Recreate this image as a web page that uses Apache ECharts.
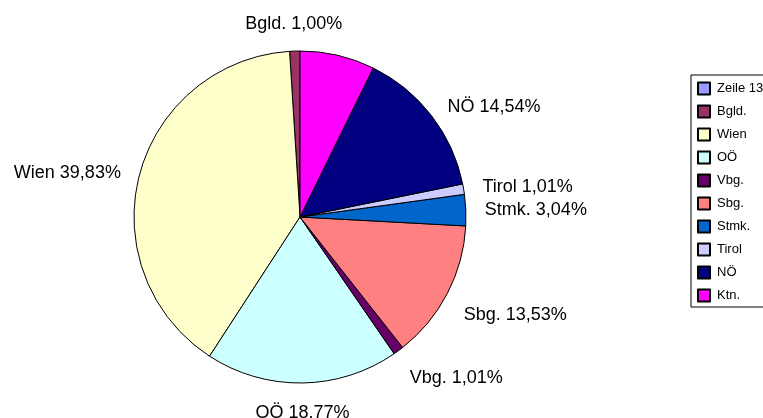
<!DOCTYPE html>
<html>
<head>
<meta charset="utf-8">
<script src="https://cdn.jsdelivr.net/npm/echarts@6/dist/echarts.min.js"></script>
<style>
  html, body { margin: 0; padding: 0; background: #fff; }
  #chart { width: 763px; height: 418px; }
</style>
</head>
<body>
<div id="chart"></div>
<script>
// regions, in legend order (pie goes counter-clockwise from 12 o'clock)
var regions = ['Zeile 13', 'Bgld.', 'Wien', 'OÖ', 'Vbg.', 'Sbg.', 'Stmk.', 'Tirol', 'NÖ', 'Ktn.'];
var shares = [0, 1.00, 39.83, 18.77, 1.01, 13.53, 3.04, 1.01, 14.54, 7.27];
var sliceLabels = ['', 'Bgld. 1,00%', 'Wien 39,83%', 'OÖ 18.77%', 'Vbg. 1,01%', 'Sbg. 13,53%',
                   'Stmk. 3,04%', 'Tirol 1,01%', 'NÖ 14,54%', ''];
var colors = ['#9999FF', '#993366', '#FFFFCC', '#CCFFFF', '#660066', '#FF8080',
              '#0066CC', '#CCCCFF', '#000080', '#FF00FF'];

var font = "'Liberation Sans', Arial, sans-serif";

// excel puts some labels a bit off the plain "outside" spot
var labelNudge = {
    'Bgld.': [53, -13],
    'Wien': [0, 2],
    'OÖ': [-52, 16],
    'Vbg.': [-2, 16],
    'Sbg.': [-1, 15]
};

var pieData = [];
for (var i = 0; i < regions.length; i++) {
    pieData.push({
        name: regions[i],
        value: shares[i],
        itemStyle: { color: colors[i] },
        label: { show: sliceLabels[i] !== '' }
    });
}

var myChart = echarts.init(document.getElementById('chart'));
var option = {
    animation: false,
    backgroundColor: '#fff',
    legend: {
        orient: 'vertical',
        left: 691,
        top: 75,
        padding: [6, 30, 4, 6],
        itemGap: 8,
        itemWidth: 12,
        itemHeight: 12,
        icon: 'rect',
        borderColor: '#000',
        borderWidth: 1,
        borderRadius: 0,
        data: regions,
        textStyle: { fontFamily: font, fontSize: 13, color: '#000', lineHeight: 15, padding: [0, 0, 0, 2] }
    },
    series: [{
        type: 'pie',
        center: [300, 217],
        radius: 166,
        startAngle: 90,
        clockwise: false,
        avoidLabelOverlap: false,
        itemStyle: { borderColor: '#000', borderWidth: 1 },
        emphasis: { disabled: true },
        label: {
            position: 'outside',
            fontFamily: font,
            fontSize: 18,
            color: '#000',
            formatter: function (p) { return sliceLabels[p.dataIndex]; }
        },
        labelLine: { show: false, length: 14, length2: 0 },
        labelLayout: function (p) {
            var n = labelNudge[regions[p.dataIndex]];
            return n ? { dx: n[0], dy: n[1] } : {};
        },
        data: pieData
    }]
};
myChart.setOption(option);
</script>
</body>
</html>
